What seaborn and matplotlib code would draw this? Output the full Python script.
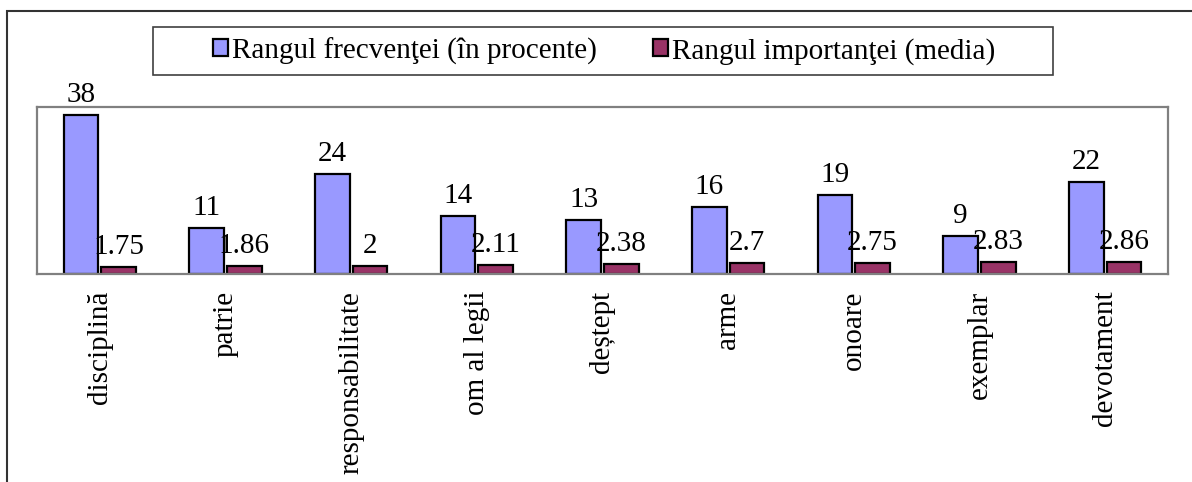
import matplotlib
matplotlib.use("Agg")
import matplotlib.pyplot as plt
import matplotlib.patches as mpatches
import seaborn as sns
import pandas as pd

categories = ["disciplină", "patrie", "responsabilitate", "om al legii", "deștept",
              "arme", "onoare", "exemplar", "devotament"]
frecventa = [38, 11, 24, 14, 13, 16, 19, 9, 22]
importanta = [1.75, 1.86, 2, 2.11, 2.38, 2.7, 2.75, 2.83, 2.86]
series_names = ["Rangul frecvenţei (în procente)", "Rangul importanţei (media)"]
colors = ["#9999FF", "#993366"]

df = pd.DataFrame({
    "categorie": categories * 2,
    "valoare": frecventa + importanta,
    "serie": [series_names[0]] * len(categories) + [series_names[1]] * len(categories),
})

sns.set_theme(style="white")
plt.rcParams["font.family"] = ["Liberation Serif", "DejaVu Serif"]
plt.rcParams["text.color"] = "black"
plt.rcParams["xtick.color"] = "black"
FS = 21

fig = plt.figure(figsize=(11.92, 4.82), dpi=100)
ax = fig.add_axes([37 / 1192, 1 - 274 / 482, (1168 - 37) / 1192, (274 - 107) / 482])

sns.barplot(data=df, x="categorie", y="valoare", hue="serie", order=categories,
            hue_order=series_names, palette=colors, width=0.6, gap=0.08,
            edgecolor="black", linewidth=1.6, saturation=1, legend=False, ax=ax)

labels = [frecventa, importanta]
for cont, vals in zip(ax.containers, labels):
    ax.bar_label(cont, labels=[f"{v:g}" for v in vals], padding=5, fontsize=FS, color="black")

ax.set_ylim(0, 40)
ax.set_xlim(-0.5, len(categories) - 0.5)
ax.set_xlabel("")
ax.set_ylabel("")
ax.set_yticks([])
ax.tick_params(axis="x", length=0, pad=12, labelsize=FS, labelrotation=90, labelcolor="black")
for lbl in ax.get_xticklabels():
    lbl.set_verticalalignment("top")
for sp in ax.spines.values():
    sp.set_visible(True)
    sp.set_color("#808080")
    sp.set_linewidth(1.6)

# legend entries, with a separate wide box drawn behind them
handles = [mpatches.Patch(facecolor=c, edgecolor="black", linewidth=1.6) for c in colors]
leg = fig.legend(handles, series_names, loc="center", bbox_to_anchor=(604 / 1192, 1 - 51 / 482),
                 ncol=2, fontsize=FS, frameon=False, handlelength=0.52,
                 handleheight=0.52, handletextpad=0.15, columnspacing=1.9,
                 borderpad=0, borderaxespad=0)
for t in leg.get_texts():
    t.set_color("black")
legend_box = mpatches.Rectangle((153 / 1192, 1 - 75 / 482), 900 / 1192, 48 / 482,
                                transform=fig.transFigure, fill=False,
                                edgecolor="#404040", linewidth=1.2)
fig.patches.append(legend_box)

# outer chart frame (extends past right and bottom edges)
frame = mpatches.Rectangle((7 / 1192, -0.2), 1.2, 1 - 11 / 482 + 0.2, transform=fig.transFigure,
                           fill=False, edgecolor="#333333", linewidth=1.5)
fig.patches.append(frame)

fig.savefig("out.png", dpi=100)
